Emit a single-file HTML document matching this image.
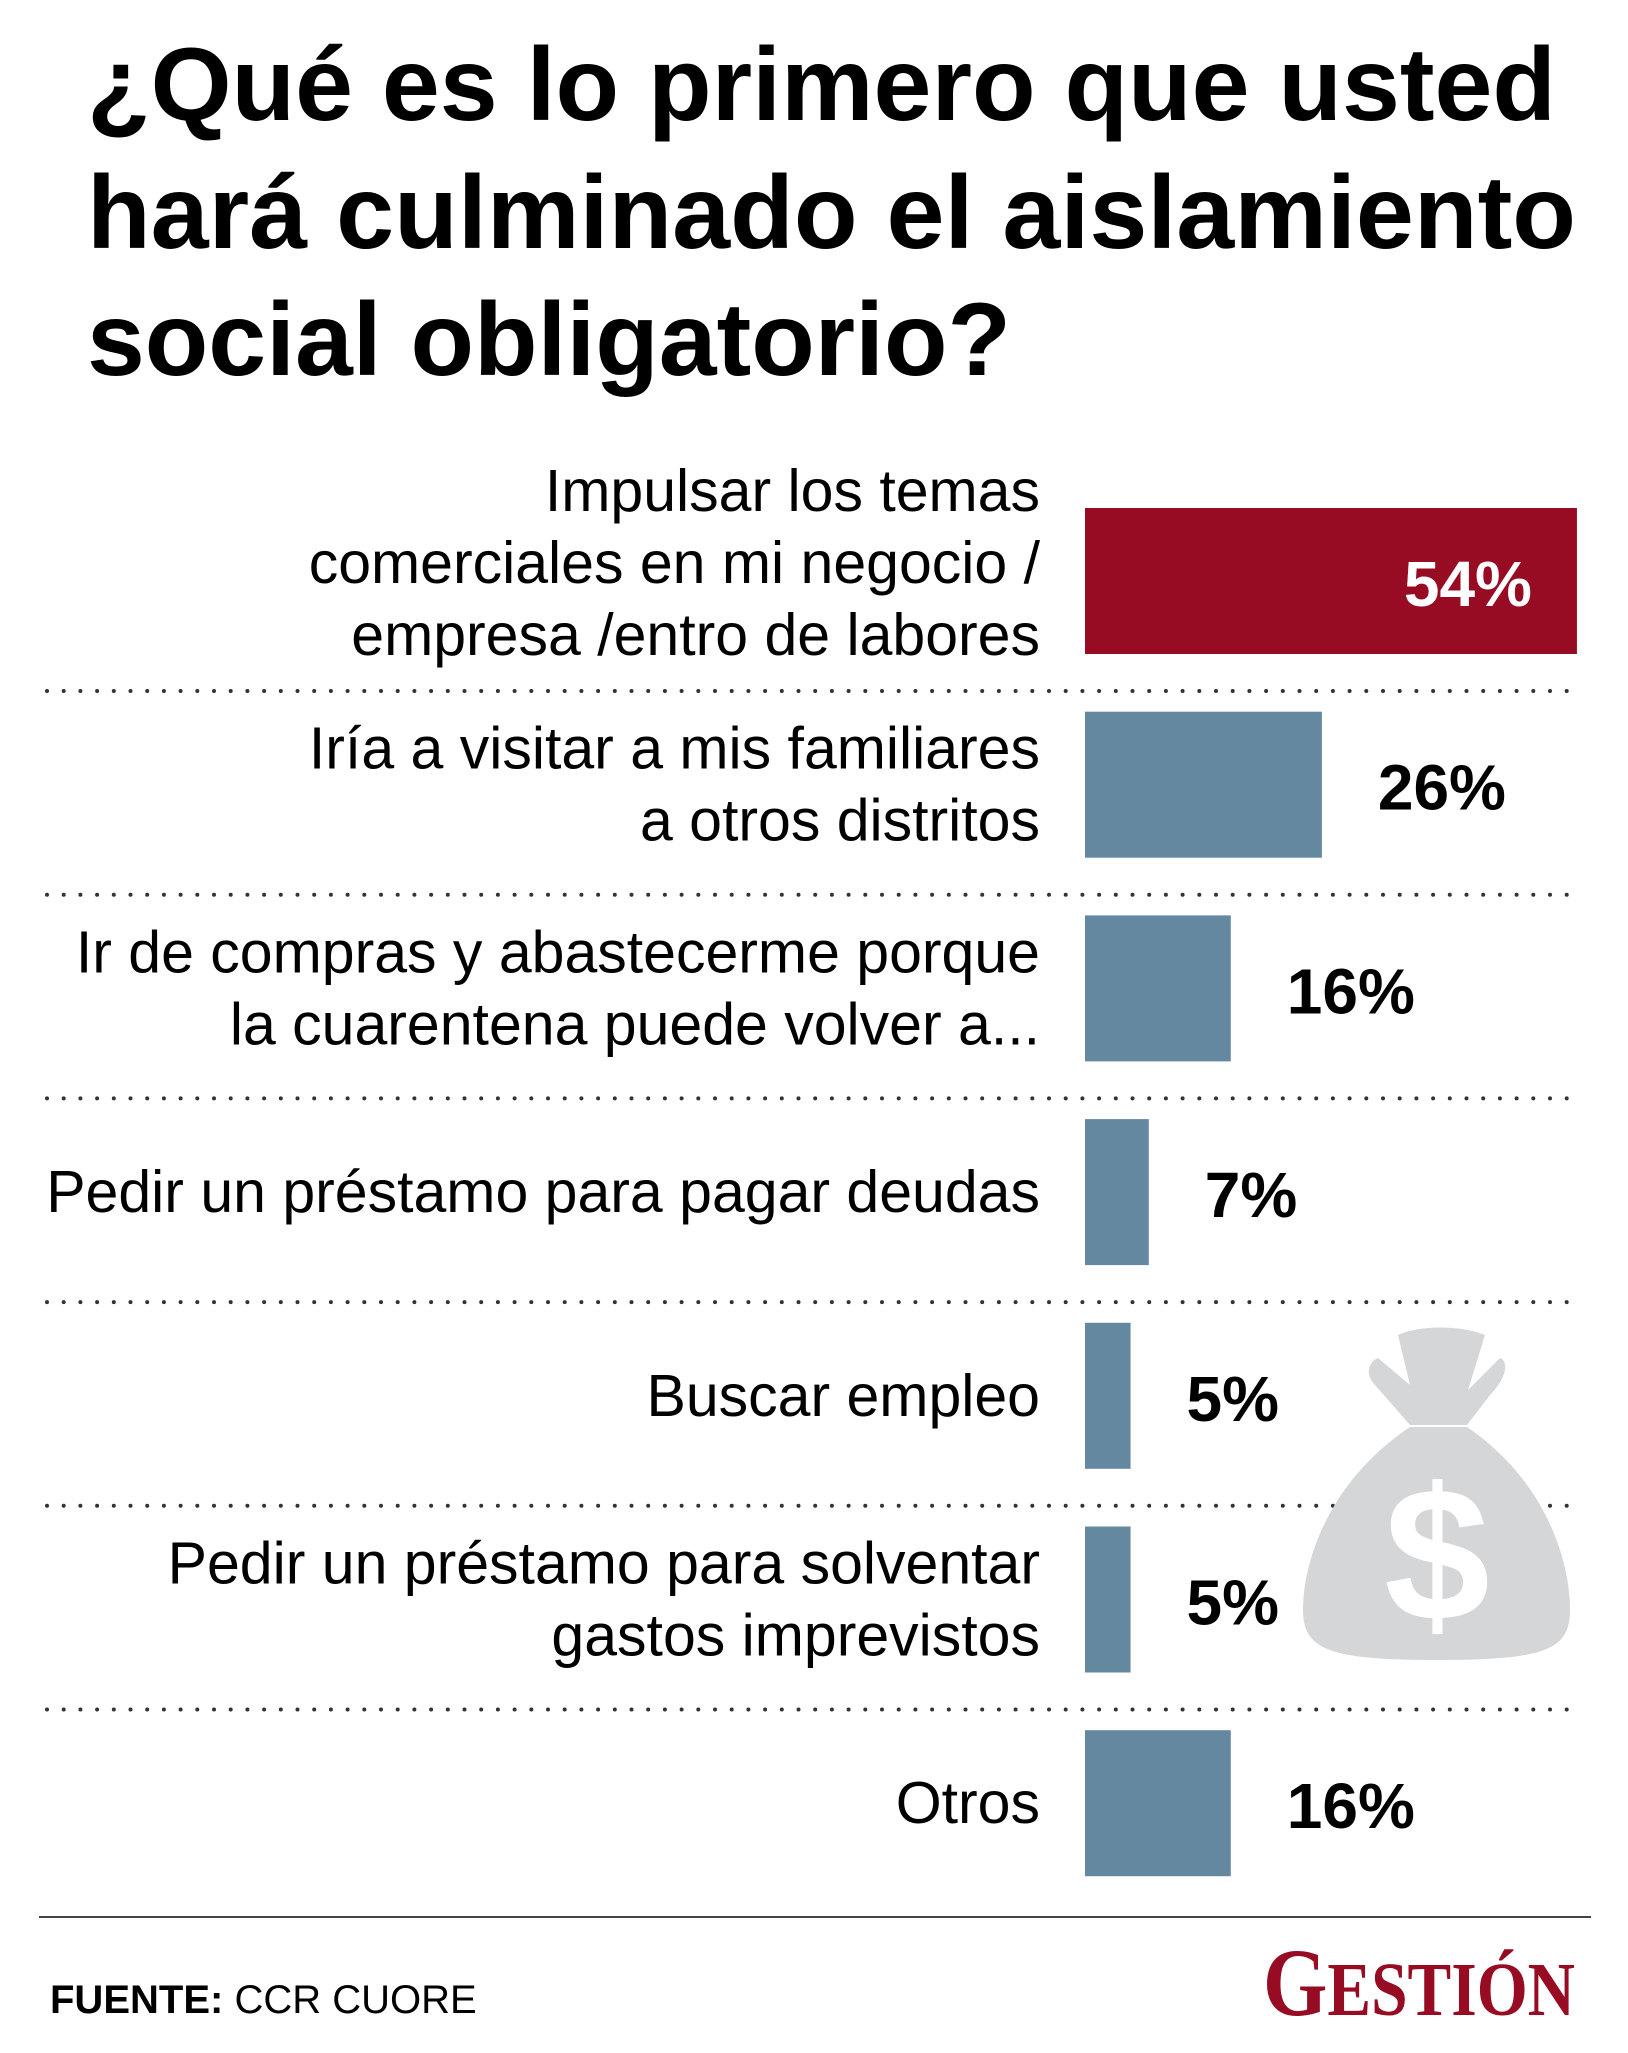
<!DOCTYPE html>
<html><head><meta charset="utf-8"><style>
html,body{margin:0;padding:0;background:#fff;}
svg{display:block;}
</style></head><body>
<svg id="chart" width="1628" height="2053" viewBox="0 0 1628 2053" xmlns="http://www.w3.org/2000/svg">
  <rect width="1628" height="2053" fill="#fff"/>
  <g font-family="Liberation Sans, sans-serif" font-weight="bold" font-size="104" fill="#000">
    <text x="87" y="120" textLength="1469" lengthAdjust="spacingAndGlyphs">¿Qué es lo primero que usted</text>
    <text x="87" y="248" textLength="1489" lengthAdjust="spacingAndGlyphs">hará culminado el aislamiento</text>
    <text x="87" y="375" textLength="924" lengthAdjust="spacingAndGlyphs">social obligatorio?</text>
  </g>
  <g id="dividers"></g>
  <g id="bag" fill="#d5d6d8">
    <path d="M1410,1427 C1330,1480 1303,1560 1303,1610 C1303,1650 1330,1660 1437,1660 C1545,1660 1570,1650 1570,1610 C1570,1560 1545,1480 1467,1427 Z"/>
    <path d="M1398,1335 C1420,1325 1460,1325 1485,1335 L1468,1390 L1500,1358 C1510,1362 1505,1380 1490,1395 L1467,1425 L1410,1425 L1375,1385 C1365,1375 1368,1362 1378,1358 L1410,1385 Z"/>
    <text x="1437" y="1620" font-family="Liberation Sans, sans-serif" font-weight="bold" font-size="190" fill="#fff" text-anchor="middle">$</text>
  </g>
  <g id="bars"></g>
  <line x1="39" y1="1917" x2="1591" y2="1917" stroke="#444" stroke-width="2"/>
  <text x="50" y="2013" font-family="Liberation Sans, sans-serif" font-size="40" fill="#000"><tspan font-weight="bold">FUENTE:</tspan> CCR CUORE</text>
  <text x="1263" y="2015" font-family="Liberation Serif, serif" font-weight="bold" fill="#970c22" textLength="312" lengthAdjust="spacingAndGlyphs"><tspan font-size="96">G</tspan><tspan font-size="76">ESTIÓN</tspan></text>
</svg>
<script>
const categories = [
  ["Impulsar los temas", "comerciales en mi negocio /", "empresa /entro de labores"],
  ["Iría a visitar a mis familiares", "a otros distritos"],
  ["Ir de compras y abastecerme porque", "la cuarentena puede volver a..."],
  ["Pedir un préstamo para pagar deudas"],
  ["Buscar empleo"],
  ["Pedir un préstamo para solventar", "gastos imprevistos"],
  ["Otros"]
];
const values = [54, 26, 16, 7, 5, 5, 16];
const valueLabels = ["54%", "26%", "16%", "7%", "5%", "5%", "16%"];

const NS = "http://www.w3.org/2000/svg";
const x0 = 1085, pxPer = 9.11, top0 = 508, pitch = 203.7, barH = 146;
function xScale(v){ return x0 + v * pxPer; }
function rowTop(i){ return top0 + i * pitch; }
const bars = document.getElementById('bars');
const div = document.getElementById('dividers');
values.forEach((v, i) => {
  const y = rowTop(i), cy = y + barH / 2;
  const r = document.createElementNS(NS, 'rect');
  
  
  r.setAttribute('x', x0); r.setAttribute('y', y);
  r.setAttribute('width', xScale(v) - x0); r.setAttribute('height', barH);
  r.setAttribute('fill', i === 0 ? '#970c22' : '#64889f');
  bars.appendChild(r);
  const t = document.createElementNS(NS, 'text');
  
  
  t.setAttribute('font-family', 'Liberation Sans, sans-serif');
  t.setAttribute('font-weight', 'bold');
  t.setAttribute('font-size', '64');
  t.setAttribute('y', cy + 25);
  if (i === 0) { t.setAttribute('x', xScale(v) - 45); t.setAttribute('text-anchor', 'end'); t.setAttribute('fill', '#fff'); }
  else { t.setAttribute('x', xScale(v) + 56); t.setAttribute('fill', '#000'); }
  t.textContent = valueLabels[i];
  bars.appendChild(t);
  const lines = categories[i], n = lines.length;
  lines.forEach((ln, j) => {
    const l = document.createElementNS(NS, 'text');
    
    
    l.setAttribute('font-family', 'Liberation Sans, sans-serif');
    l.setAttribute('font-size', '59');
    l.setAttribute('text-anchor', 'end');
    l.setAttribute('x', 1040);
    l.setAttribute('y', cy + 20 + (j - (n - 1) / 2) * 72 - (n === 3 ? 18 : 0));
    l.setAttribute('fill', '#000');
    l.textContent = ln;
    bars.appendChild(l);
  });
  if (i < values.length - 1) {
    const d = document.createElementNS(NS, 'line');
    
    
    const dy = y + barH + 37;
    d.setAttribute('x1', 47); d.setAttribute('x2', 1578);
    d.setAttribute('y1', dy); d.setAttribute('y2', dy);
    d.setAttribute('stroke', '#333'); d.setAttribute('stroke-width', '4');
    d.setAttribute('stroke-linecap', 'round'); d.setAttribute('stroke-dasharray', '0 16.7');
    div.appendChild(d);
  }
});
</script>
</body></html>
